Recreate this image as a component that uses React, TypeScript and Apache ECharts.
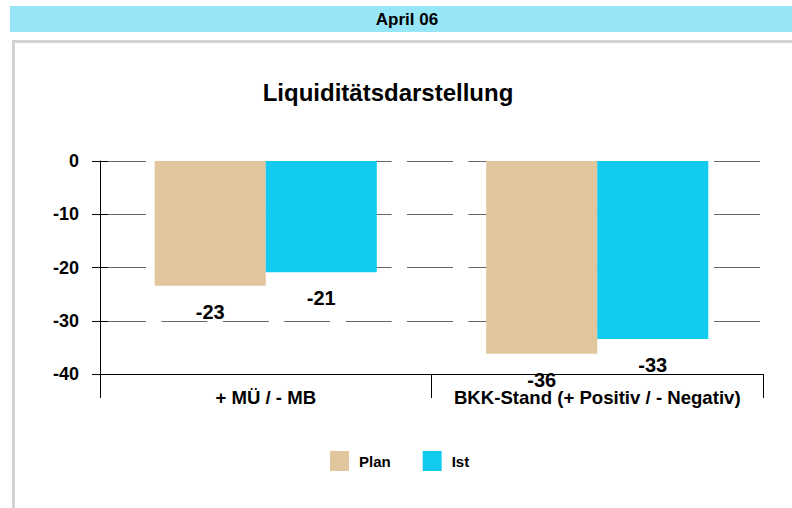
import React, { useEffect, useRef } from "react";
import * as echarts from "echarts";

const headerText = "April 06";
const chartTitle = "Liquiditätsdarstellung";
const categories = ["+ MÜ / - MB", "BKK-Stand (+ Positiv / - Negativ)"];
const seriesNames = ["Plan", "Ist"];
const planValues = [-23.45, -36.2];
const istValues = [-20.9, -33.45];
const yMin = -40;
const yMax = 0;
const yInterval = 10;

const FONT = "'Liberation Sans', Arial, Helvetica, sans-serif";

export default function App() {
  const ref = useRef<HTMLDivElement>(null);
  useEffect(() => {
    if (!ref.current) return;
    const chart = echarts.init(ref.current, undefined, { renderer: "svg" });
    const labelCfg = {
      show: true,
      position: "bottom",
      distance: 16,
      color: "#000",
      fontSize: 20,
      fontWeight: "bold",
      fontFamily: FONT,
      formatter: (p: any) => String(Math.round(p.value)),
    };
    chart.setOption({
      animation: false,
      backgroundColor: "#fff",
      textStyle: { fontFamily: FONT },
      graphic: [
        { type: "rect", shape: { x: 10, y: 6, width: 782, height: 26 }, style: { fill: "#97E6F8" }, silent: true },
        { type: "rect", shape: { x: 12, y: 40, width: 780, height: 3 }, style: { fill: "#D3D3D3" }, silent: true },
        { type: "rect", shape: { x: 12, y: 40, width: 3, height: 468 }, style: { fill: "#D3D3D3" }, silent: true },
        {
          type: "text",
          x: 407,
          y: 19,
          style: { text: headerText, fill: "#000", font: `bold 17px ${FONT}`, align: "center", verticalAlign: "middle" },
        },
        {
          type: "text",
          x: 388,
          y: 92,
          style: { text: chartTitle, fill: "#000", font: `bold 24px ${FONT}`, align: "center", verticalAlign: "middle" },
        },
      ],
      legend: {
        data: seriesNames,
        left: 330,
        top: 451,
        padding: 0,
        itemWidth: 19,
        itemHeight: 20,
        itemGap: 32,
        icon: "rect",
        textStyle: { fontSize: 15, fontWeight: "bold", color: "#000", fontFamily: FONT, padding: [0, 0, 0, 5] },
      },
      grid: { left: 100, right: 29, top: 161, bottom: 134, containLabel: false },
      xAxis: {
        type: "category",
        data: categories,
        boundaryGap: true,
        position: "bottom",
        axisLine: { show: true, onZero: false, lineStyle: { color: "#000", width: 1 } },
        axisTick: { show: true, length: 24, lineStyle: { color: "#000", width: 1 } },
        axisLabel: { interval: 0, margin: 14, fontSize: 18.6, fontWeight: "bold", color: "#000", fontFamily: FONT },
        splitLine: { show: false },
      },
      yAxis: [
        {
          type: "value",
          min: yMin,
          max: yMax,
          interval: yInterval,
          position: "left",
          offset: 0,
          axisLine: { show: true, onZero: false, lineStyle: { color: "#000", width: 1 } },
          axisTick: { show: true, length: 8, lineStyle: { color: "#000", width: 1 } },
          axisLabel: { margin: 21, fontSize: 18, fontWeight: "bold", color: "#000", fontFamily: FONT },
          splitLine: { show: true, lineStyle: { color: "#666", width: 1, type: [46, 15.4] } },
        },
        {
          type: "value",
          min: yMin,
          max: yMax,
          interval: yInterval,
          position: "left",
          offset: 0,
          axisLine: { show: false, onZero: false },
          axisTick: { show: true, inside: true, length: 8, lineStyle: { color: "#000", width: 1 } },
          axisLabel: { show: false },
          splitLine: { show: false },
        },
      ],
      series: [
        {
          name: seriesNames[0],
          type: "bar",
          data: planValues,
          barWidth: "33.5%",
          barGap: "0%",
          itemStyle: { color: "#E0C59D" },
          label: labelCfg,
        },
        {
          name: seriesNames[1],
          type: "bar",
          data: istValues,
          barWidth: "33.5%",
          barGap: "0%",
          itemStyle: { color: "#12CBEF" },
          label: labelCfg,
        },
      ],
    });
    return () => chart.dispose();
  }, []);
  return <div ref={ref} style={{ position: "fixed", left: 0, top: 0, width: 792, height: 508 }} />;
}
